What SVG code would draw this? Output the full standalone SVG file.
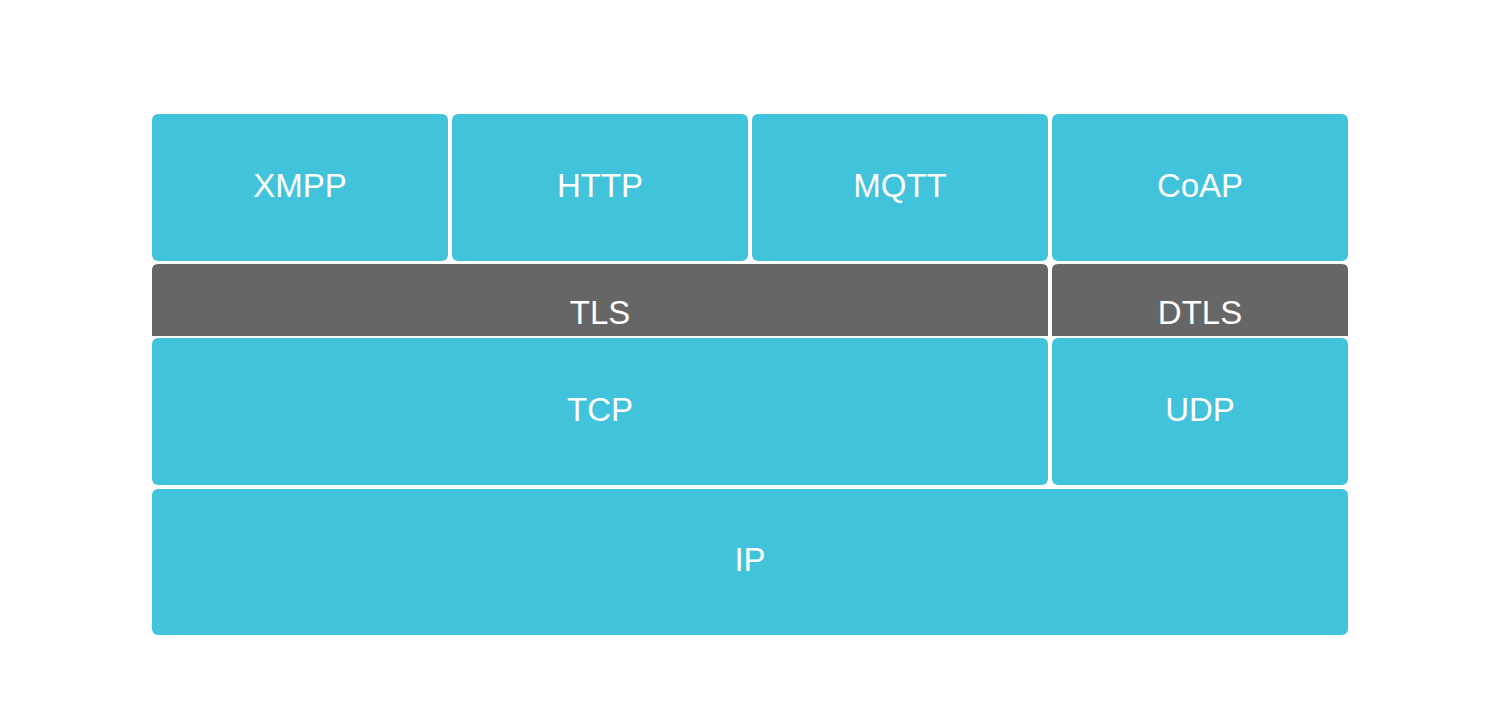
<svg xmlns="http://www.w3.org/2000/svg" width="1500" height="717" viewBox="0 0 1500 717">
<style>
.b{fill:#42C3DC}
.g{fill:#666666}
.t{font-family:"Liberation Sans",Arial,sans-serif;font-size:33px;fill:#ffffff;text-anchor:middle}
</style>
<rect width="1500" height="717" fill="#ffffff"/>
<g id="XMPP"><rect class="b" x="152" y="114" width="296" height="147" rx="6"/><text class="t" x="300" y="197">XMPP</text></g>
<g id="HTTP"><rect class="b" x="452" y="114" width="296" height="147" rx="6"/><text class="t" x="600" y="197">HTTP</text></g>
<g id="MQTT"><rect class="b" x="752" y="114" width="296" height="147" rx="6"/><text class="t" x="900" y="197">MQTT</text></g>
<g id="CoAP"><rect class="b" x="1052" y="114" width="296" height="147" rx="6"/><text class="t" x="1200" y="197">CoAP</text></g>
<g id="TLS"><path class="g" d="M152,336 V270 Q152,264 158,264 H1042 Q1048,264 1048,270 V336 Z"/><text class="t" x="600" y="324">TLS</text></g>
<g id="DTLS"><path class="g" d="M1052,336 V270 Q1052,264 1058,264 H1342 Q1348,264 1348,270 V336 Z"/><text class="t" x="1200" y="324">DTLS</text></g>
<g id="TCP"><rect class="b" x="152" y="338" width="896" height="147" rx="6"/><text class="t" x="600" y="421">TCP</text></g>
<g id="UDP"><rect class="b" x="1052" y="338" width="296" height="147" rx="6"/><text class="t" x="1200" y="421">UDP</text></g>
<g id="IP"><rect class="b" x="152" y="489" width="1196" height="146" rx="6"/><text class="t" x="750" y="571">IP</text></g>
<g id="connectors"></g>
</svg>
